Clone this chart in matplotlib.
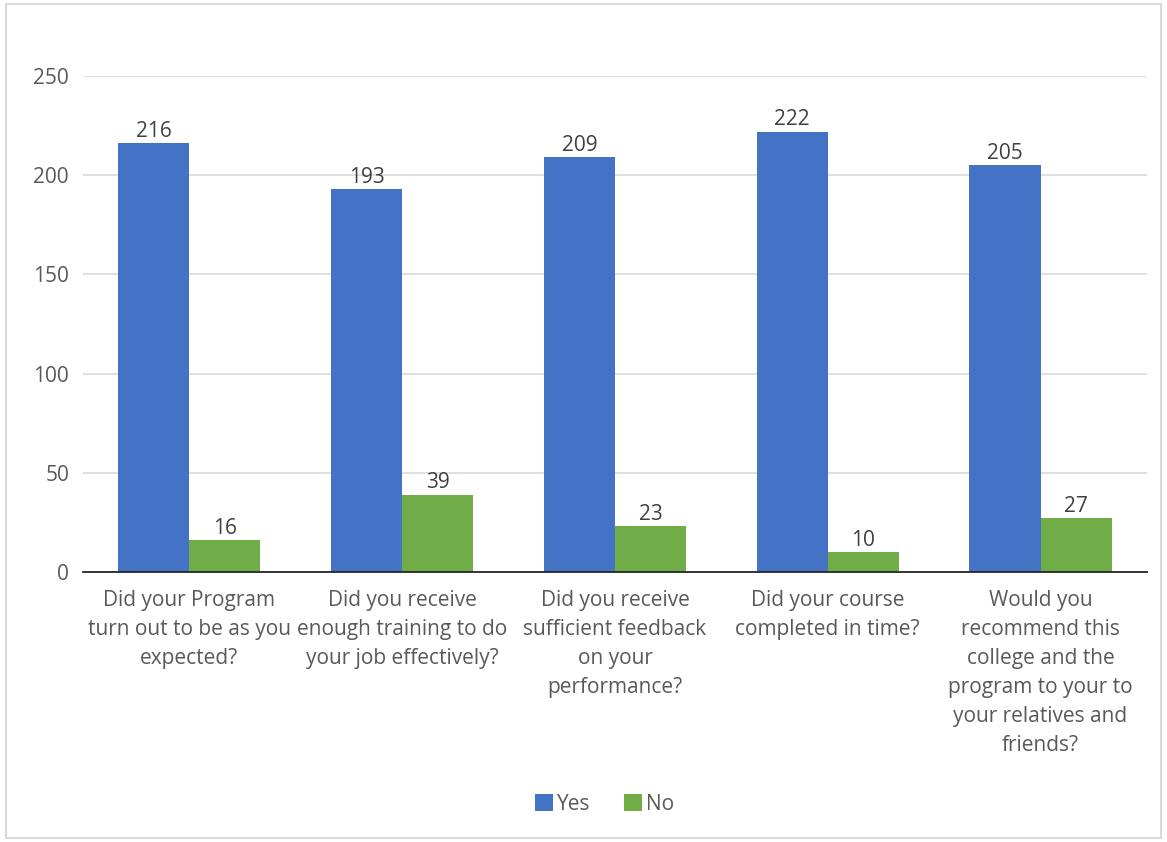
import matplotlib.pyplot as plt
import numpy as np
from matplotlib.patches import Rectangle

plt.rcParams['font.family'] = ['Open Sans', 'DejaVu Sans']

categories = [
    "Did your Program\nturn out to be as you\nexpected?",
    "Did you receive\nenough training to do\nyour job effectively?",
    "Did you receive\nsufficient feedback\non your\nperformance?",
    "Did your course\ncompleted in time?",
    "Would you\nrecommend this\ncollege and the\nprogram to your to\nyour relatives and\nfriends?",
]
yes_vals = [216, 193, 209, 222, 205]
no_vals = [16, 39, 23, 10, 27]
yticks = [0, 50, 100, 150, 200, 250]

BLUE = '#4472C4'
GREEN = '#70AD47'
TXT = '#595959'
FS = 15

fig = plt.figure(figsize=(11.67, 8.42), dpi=100)
ax = fig.add_axes([0.0711, 0.3207, 0.9117, 0.589])

x = np.arange(len(categories))
w = 0.334
b1 = ax.bar(x - w / 2, yes_vals, w, color=BLUE, label='Yes', zorder=3)
b2 = ax.bar(x + w / 2, no_vals, w, color=GREEN, label='No', zorder=3)
for bars in (b1, b2):
    ax.bar_label(bars, padding=1, fontsize=FS, color='#404040')

ax.set_xlim(-0.5, len(categories) - 0.5)
ax.set_ylim(0, 250)
ax.set_yticks(yticks)
ax.set_xticks(x)
ax.set_xticklabels(categories, fontsize=FS, color=TXT, linespacing=1.5, va='top')
ax.tick_params(axis='y', labelsize=FS, labelcolor=TXT, length=0, pad=10)
ax.tick_params(axis='x', length=0, pad=13)
ax.grid(axis='y', color='#D9D9D9', linewidth=1.2, zorder=0)
for s in ['top', 'right', 'left']:
    ax.spines[s].set_visible(False)
ax.spines['bottom'].set_color('#262626')
ax.spines['bottom'].set_linewidth(1.3)
ax.spines['bottom'].set_zorder(4)

fig.legend(handles=[b1, b2], loc='center', bbox_to_anchor=(0.518, 0.045), ncol=2,
           frameon=False, fontsize=FS, labelcolor=TXT, handlelength=0.85,
           handleheight=0.85, handletextpad=0.2, columnspacing=1.6)

fig.patches.append(Rectangle((0.005, 0.005), 0.99, 0.99, transform=fig.transFigure,
                             fill=False, edgecolor='#D9D9D9', linewidth=1.5))

fig.savefig('out.png', dpi=100)
